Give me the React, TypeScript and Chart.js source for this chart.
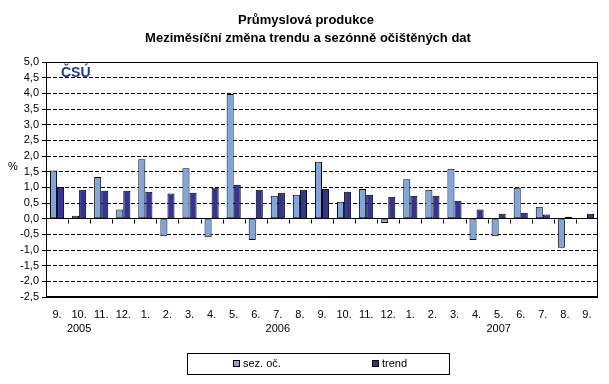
import React, { useEffect, useRef } from "react";
import { Chart, registerables } from "chart.js";

Chart.register(...registerables);

const months = ["9.", "10.", "11.", "12.", "1.", "2.", "3.", "4.", "5.", "6.", "7.", "8.", "9.", "10.", "11.", "12.", "1.", "2.", "3.", "4.", "5.", "6.", "7.", "8.", "9."];
const yearLabels = ["2005", "2006", "2007"];
const yearAtIndex = [1, 10, 20];
const sezOc = [1.54, 0.09, 1.33, 0.29, 1.9, -0.56, 1.61, -0.59, 3.98, -0.68, 0.73, 0.76, 1.82, 0.54, 0.95, -0.14, 1.26, 0.92, 1.59, -0.68, -0.56, 0.99, 0.38, -0.93, null];
const trend = [1.01, 0.92, 0.89, 0.89, 0.86, 0.8, 0.83, 0.99, 1.08, 0.92, 0.83, 0.92, 0.95, 0.86, 0.76, 0.7, 0.73, 0.73, 0.57, 0.29, 0.16, 0.19, 0.13, 0.06, 0.16];
const seriesNames = ["sez. oč.", "trend"];
const titleLines = ["Průmyslová produkce", "Meziměsíční změna trendu a sezónně očištěných dat"];
const yMin = -2.5;
const yMax = 5;
const yStep = 0.5;

const COLORS = ["#7fa6de", "#333399"];
const FONT = "'Liberation Sans', Arial, sans-serif";

const labels = months.map((m, i) => {
  const yi = yearAtIndex.indexOf(i);
  return yi >= 0 ? [m, yearLabels[yi]] : m;
});

const decor = {
  id: "decor",
  beforeDraw(chart: any) {
    const ctx = chart.ctx;
    ctx.save();
    ctx.fillStyle = "#ffffff";
    ctx.fillRect(0, 0, chart.width, chart.height);
    ctx.restore();
  },
  afterDraw(chart: any) {
    const ctx = chart.ctx;
    const { left, right, top, bottom } = chart.chartArea;
    const ys = chart.scales.y;
    ctx.save();
    // plot border
    ctx.strokeStyle = "#000";
    ctx.lineWidth = 1;
    ctx.strokeRect(Math.round(left) + 0.5, Math.round(top) + 0.5, Math.round(right - left) - 1, Math.round(bottom - top) - 1);
    // x tick marks at zero line
    const y0 = Math.round(ys.getPixelForValue(0)) + 0.5;
    const n = months.length;
    const cw = (right - left) / n;
    ctx.beginPath();
    for (let i = 1; i < n; i++) {
      const x = Math.round(left + i * cw) + 0.5;
      ctx.moveTo(x, y0);
      ctx.lineTo(x, y0 + 4);
    }
    ctx.stroke();
    // title
    ctx.fillStyle = "#000";
    ctx.textAlign = "center";
    ctx.textBaseline = "middle";
    ctx.font = `bold 13px ${FONT}`;
    ctx.fillText(titleLines[0], 306, 20);
    ctx.fillText(titleLines[1], 308, 38);
    // % label
    ctx.font = `11px ${FONT}`;
    ctx.fillText("%", 13, 167);
    // logo
    ctx.fillStyle = "#1c3a87";
    ctx.textAlign = "left";
    ctx.textBaseline = "alphabetic";
    ctx.font = `bold 14px ${FONT}`;
    ctx.fillText("ČSÚ", 61, 77);
    // legend
    ctx.strokeStyle = "#000";
    ctx.strokeRect(187.5, 353.5, 262, 21);
    const items = [
      { x: 233, tx: 243 },
      { x: 372, tx: 382 },
    ];
    ctx.font = `11px ${FONT}`;
    ctx.textBaseline = "middle";
    items.forEach((it, i) => {
      ctx.fillStyle = COLORS[i];
      ctx.fillRect(it.x + 0.5, 360.5, 6, 6);
      ctx.strokeRect(it.x + 0.5, 360.5, 6, 6);
      ctx.fillStyle = "#000";
      ctx.fillText(seriesNames[i], it.tx, 364);
    });
    ctx.restore();
  },
};

export default function App() {
  const ref = useRef<HTMLCanvasElement>(null);
  useEffect(() => {
    if (!ref.current) return;
    const chart = new Chart(ref.current, {
      type: "bar",
      data: {
        labels,
        datasets: [
          {
            label: seriesNames[0],
            data: sezOc,
            backgroundColor: COLORS[0],
            borderColor: "#000",
            borderWidth: 1,
            borderSkipped: false,
            barPercentage: 1,
            categoryPercentage: 0.64,
          },
          {
            label: seriesNames[1],
            data: trend,
            backgroundColor: COLORS[1],
            borderColor: "#000",
            borderWidth: 1,
            borderSkipped: false,
            barPercentage: 1,
            categoryPercentage: 0.64,
          },
        ],
      },
      options: {
        responsive: false,
        animation: false,
        layout: { padding: { left: 0, top: 62, right: 11, bottom: 47 } },
        plugins: { legend: { display: false }, title: { display: false }, tooltip: { enabled: false } },
        scales: {
          x: {
            grid: { display: false, drawTicks: false },
            border: { display: false },
            ticks: {
              color: "#000",
              font: { family: FONT, size: 11, lineHeight: 1.36 },
              padding: 10,
              maxRotation: 0,
              autoSkip: false,
            },
            afterFit(scale: any) {
              scale.height = 40;
            },
          },
          y: {
            min: yMin,
            max: yMax,
            grid: {
              color: "#000",
              lineWidth: 1,
              tickLength: 4,
              drawTicks: true,
            },
            border: {
              display: true,
              color: "#000",
              dash: (ctx: any) => {
                const v = ctx.tick ? ctx.tick.value : null;
                if (v === 0 || v === yMax || v === yMin) return [];
                return [4, 2];
              },
            },
            ticks: {
              stepSize: yStep,
              autoSkip: false,
              color: "#000",
              padding: 3,
              font: { family: FONT, size: 11 },
              callback: (v: any) => Number(v).toFixed(1).replace(".", ","),
            },
            afterFit(scale: any) {
              scale.width = 46;
            },
          },
        },
      },
      plugins: [decor],
    });
    return () => chart.destroy();
  }, []);
  return (
    <div style={{ position: "fixed", left: 0, top: 0 }}>
      <canvas ref={ref} width={609} height={384} style={{ display: "block" }} />
    </div>
  );
}
